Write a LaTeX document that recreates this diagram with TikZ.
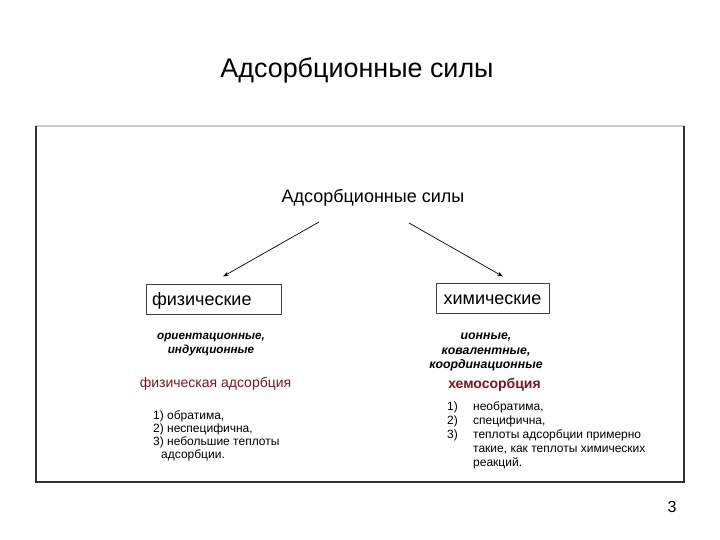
\documentclass[tikz,border=0pt]{standalone}
\usepackage{fontspec}
\setmainfont{Liberation Sans}
\usetikzlibrary{arrows.meta,calc}
\definecolor{darkred}{RGB}{125,20,35}
\newcommand{\itemnum}[1]{\makebox[26pt][l]{#1}}
\begin{document}
\begin{tikzpicture}[x=1pt,y=-1pt,
  txt/.style={inner sep=0pt, text=black},
  catbox/.style={draw=black!75, line width=1pt, minimum height=30pt, inner sep=0pt,
    text height=14pt, text depth=2pt, font=\fontsize{18}{21}\selectfont},
  kinds/.style={txt, align=center, font=\fontsize{11.7}{14}\selectfont\bfseries\itshape},
  sorpt/.style={txt, text=darkred, font=\fontsize{14}{16}\selectfont},
  props/.style={txt, align=left, font=\fontsize{12}{13}\selectfont},
  arr/.style={line width=0.7pt, -{Stealth[length=6pt,width=4pt]}}]
\useasboundingbox (0,0) rectangle (720,540);
\fill[white] (0,0) rectangle (720,540);
% title
\node[txt, anchor=base] (title) at (357,78) {\fontsize{26.9}{32}\selectfont Адсорбционные силы};
% frame
\draw[black!20, line width=1.2pt] (36,126) -- (684,126);
\draw[black!80, line width=1.8pt] (36,126) -- (36,482) -- (684,482) -- (684,126);
% heading
\node[txt, anchor=base] (forces) at (373,203) {\fontsize{18}{21}\selectfont Адсорбционные силы};
% boxes
\node[catbox, text width=123pt, inner xsep=6pt, align=left] (phys) at (213.5,299) {физические};
\node[catbox, minimum width=113pt] (chem) at (492.5,298) {химические};
% arrows
\coordinate (s1) at (319,222);
\coordinate (s2) at (409,223);
\draw[arr] (s1) -- ($(phys.north)+(9.5,-7)$);
\draw[arr] (s2) -- ($(chem.north)+(10.5,-6)$);
% kinds of forces
\node[kinds] (pk) at (211,344.5) {ориентационные,\\индукционные};
\node[kinds, font=\fontsize{12.3}{14.5}\selectfont\bfseries\itshape] (ck) at (486,352) {ионные,\\ковалентные,\\координационные};
% adsorption types
\node[sorpt] (pa) at (215.5,384) {физическая адсорбция};
\node[sorpt, font=\fontsize{14}{16}\selectfont\bfseries] (ca) at (494.5,385) {хемосорбция};
% properties
\node[props, anchor=north west] (pp) at (153,410) {1) обратима,\\2) неспецифична,\\3) небольшие теплоты\\\hspace*{8pt}адсорбции.};
\node[props, anchor=north west, font=\fontsize{12}{14}\selectfont] (cp) at (447,401) {\itemnum{1)}необратима,\\\itemnum{2)}специфична,\\\itemnum{3)}теплоты адсорбции примерно\\\hspace*{26pt}такие, как теплоты химических\\\hspace*{26pt}реакций.};
% page number
\node[txt] (num) at (672,507) {\fontsize{16}{19}\selectfont 3};
\end{tikzpicture}
\end{document}
